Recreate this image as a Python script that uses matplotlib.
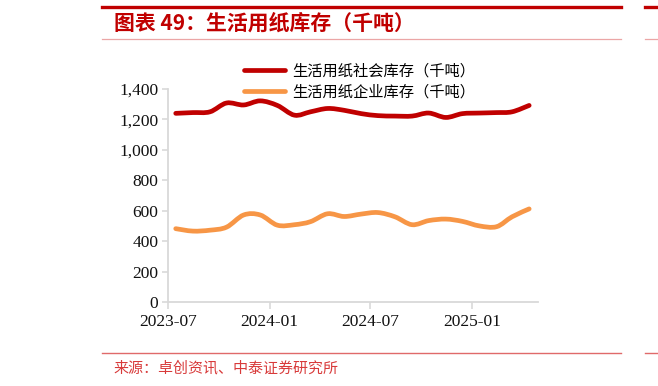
import matplotlib
matplotlib.use('Agg')
import matplotlib.pyplot as plt
import matplotlib.dates as mdates
from matplotlib.path import Path
from matplotlib.patches import PathPatch
from matplotlib.lines import Line2D
from matplotlib.ticker import FuncFormatter
import numpy as np
import pandas as pd

plt.rcParams['font.family'] = ['Noto Sans CJK SC', 'DejaVu Sans']

# monthly data (mid-month points), thousand tonnes
months = ['2023-07', '2023-08', '2023-09', '2023-10', '2023-11', '2023-12',
          '2024-01', '2024-02', '2024-03', '2024-04', '2024-05', '2024-06',
          '2024-07', '2024-08', '2024-09', '2024-10', '2024-11', '2024-12',
          '2025-01', '2025-02', '2025-03', '2025-04']
social = [1240, 1245, 1250, 1308, 1295, 1322, 1292, 1228, 1250, 1272, 1260, 1238,
          1225, 1222, 1222, 1242, 1213, 1238, 1242, 1245, 1250, 1292]
enterprise = [482, 466, 472, 492, 572, 572, 505, 508, 528, 580, 562, 578,
              588, 560, 508, 535, 545, 530, 500, 495, 560, 612]

labels = ['生活用纸社会库存（千吨）', '生活用纸企业库存（千吨）']
colors = ['#C00000', '#F79646']
xticks = ['2023-07', '2024-01', '2024-07', '2025-01']
yticks = [0, 200, 400, 600, 800, 1000, 1200, 1400]

dates = pd.to_datetime(months) + pd.Timedelta(days=14)
xnum = mdates.date2num(dates)


def smooth_path(x, y):
    # Catmull-Rom curve through the points, drawn as cubic Bezier segments
    pts = np.column_stack([x, y]).astype(float)
    n = len(pts)
    verts = [pts[0]]
    codes = [Path.MOVETO]
    for i in range(n - 1):
        p0 = pts[i - 1] if i > 0 else pts[i]
        p1 = pts[i]
        p2 = pts[i + 1]
        p3 = pts[i + 2] if i + 2 < n else pts[i + 1]
        verts += [p1 + (p2 - p0) / 6, p2 - (p3 - p1) / 6, p2]
        codes += [Path.CURVE4] * 3
    return Path(verts, codes)


fig = plt.figure(figsize=(6.58, 3.86), dpi=100)
W, H = 658, 386
ax = fig.add_axes([168 / W, (H - 302) / H, (538 - 168) / W, (302 - 89) / H])

for vals, c in zip([social, enterprise], colors):
    ax.add_patch(PathPatch(smooth_path(xnum, vals), facecolor='none', edgecolor=c,
                           lw=3.4, capstyle='round', joinstyle='round'))

ax.set_xlim(mdates.date2num(pd.Timestamp('2023-07-01')),
            mdates.date2num(pd.Timestamp('2025-05-01')))
ax.set_ylim(0, 1400)
ax.set_xticks(mdates.date2num(pd.to_datetime(xticks)))
ax.set_xticklabels(xticks)
ax.set_yticks(yticks)
ax.yaxis.set_major_formatter(FuncFormatter(lambda v, p: f'{int(v):,}'))

for s in ['top', 'right']:
    ax.spines[s].set_visible(False)
for s in ['left', 'bottom']:
    ax.spines[s].set_color('#D9D9D9')
    ax.spines[s].set_linewidth(1.3)
ax.tick_params(axis='both', colors='#D9D9D9', width=1.2, labelcolor='#111111')
ax.tick_params(axis='y', length=4, pad=3)
ax.tick_params(axis='x', length=5, pad=4)
for t in ax.get_xticklabels() + ax.get_yticklabels():
    t.set_fontfamily('Liberation Serif')
    t.set_fontsize(12.5)

handles = [Line2D([], [], color=c, lw=3.4, solid_capstyle='round') for c in colors]
fig.legend(handles, labels, loc='upper left', bbox_to_anchor=(233 / W, 1 - 52 / H),
           frameon=False, fontsize=11, handlelength=2.7, handletextpad=0.45,
           labelspacing=0.25, borderpad=0.2)

# report frame: title, rules and source
red = '#C00000'
fig.add_artist(Line2D([102 / W, 621 / W], [1 - 6.5 / H] * 2, color=red, lw=2.4))
fig.add_artist(Line2D([645 / W, 1], [1 - 6.5 / H] * 2, color=red, lw=2.4))
fig.add_artist(Line2D([102 / W, 621 / W], [1 - 39 / H] * 2, color='#EBA6A6', lw=0.9))
fig.add_artist(Line2D([645 / W, 1], [1 - 39 / H] * 2, color='#EBA6A6', lw=0.9))
fig.add_artist(Line2D([102 / W, 621 / W], [1 - 352.5 / H] * 2, color='#E06A6A', lw=1.0))
fig.add_artist(Line2D([645 / W, 1], [1 - 352.5 / H] * 2, color='#E06A6A', lw=1.0))

fig.text(114 / W, 1 - 23.5 / H, '图表 49：生活用纸库存（千吨）', color=red,
         fontsize=15, fontweight='bold', va='center', ha='left')
fig.text(113 / W, 1 - 368 / H, '来源：卓创资讯、中泰证券研究所', color='#D83A3A',
         fontsize=10.8, va='center', ha='left')

fig.savefig('out.png', dpi=100)
